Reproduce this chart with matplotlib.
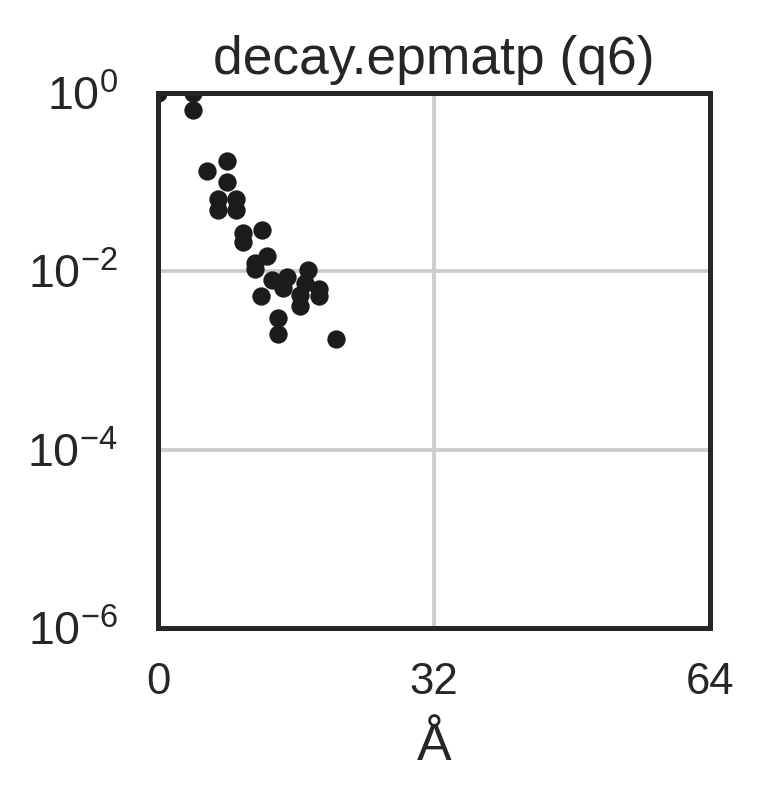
import matplotlib
matplotlib.use("Agg")
import matplotlib.pyplot as plt

plt.rcParams['font.family'] = ['Liberation Sans', 'DejaVu Sans']
plt.rcParams['font.size'] = 10.5
plt.rcParams['text.color'] = '#262626'
plt.rcParams['axes.labelcolor'] = '#262626'
plt.rcParams['xtick.color'] = '#262626'
plt.rcParams['ytick.color'] = '#262626'

# distance (Å) vs decay value
dist = [0, 4, 4, 5.7, 8.0, 8.0, 7.0, 7.0, 9.0, 9.0, 9.8, 9.8, 12.0, 12.65,
        11.25, 11.25, 13.25, 14.9, 14.45, 11.95, 17.4, 17.0, 16.5, 16.5,
        18.7, 18.7, 13.9, 13.9, 20.6]
decay = [1.0, 1.0, 0.646, 0.134, 0.173, 0.101, 0.0646, 0.0490, 0.0646, 0.0490,
         0.0267, 0.0215, 0.0291, 0.0149, 0.0123, 0.0105, 0.00794, 0.00871,
         0.00646, 0.00530, 0.01035, 0.00741, 0.00543, 0.00412, 0.00635,
         0.00525, 0.00302, 0.00197, 0.00174]

xticks = [0, 32, 64]
yticks = [1e0, 1e-2, 1e-4, 1e-6]

fig = plt.figure(figsize=(763 / 300, 800 / 300), dpi=300)
ax = fig.add_axes([158 / 763, 1 - 628 / 800, (710 - 158) / 763, (628 - 93) / 800])

ax.plot(dist, decay, 'o', color='#1c1c1c', markersize=4.4, markeredgewidth=0)

ax.set_yscale('log')
ax.set_xlim(0, 64)
ax.set_ylim(1e-6, 1e0)
ax.set_xticks(xticks)
ax.set_xticklabels([str(t) for t in xticks])
ax.set_yticks(yticks)
ax.minorticks_off()
ax.tick_params(axis='x', length=0, pad=8.2)
ax.tick_params(axis='y', length=0, pad=9.6, labelsize=11.2)

ax.grid(True, color='#cccccc', linewidth=0.9)
ax.set_axisbelow(True)
for s in ax.spines.values():
    s.set_color('#262626')
    s.set_linewidth(1.2)

ax.set_title('decay.epmatp (q6)', fontsize=12.8, pad=4.5)
ax.set_xlabel('Å', fontsize=12.4, labelpad=4.5)

fig.savefig('out.png', dpi=300)
